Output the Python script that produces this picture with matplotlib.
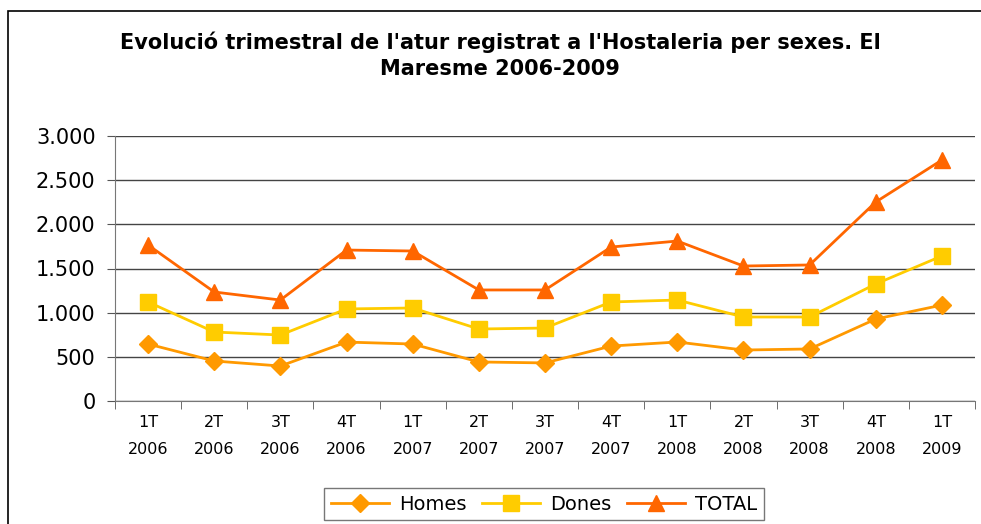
import matplotlib.pyplot as plt
from matplotlib.patches import Rectangle

cats = ["1T\n2006", "2T\n2006", "3T\n2006", "4T\n2006", "1T\n2007", "2T\n2007",
        "3T\n2007", "4T\n2007", "1T\n2008", "2T\n2008", "3T\n2008", "4T\n2008",
        "1T\n2009"]
homes = [645, 453, 396, 667, 645, 442, 431, 622, 668, 577, 589, 928, 1086]
dones = [1121, 781, 747, 1042, 1053, 815, 826, 1121, 1143, 951, 951, 1325, 1642]
total = [1766, 1234, 1143, 1709, 1698, 1257, 1257, 1743, 1811, 1528, 1540, 2253, 2728]

fig = plt.figure(figsize=(9.81, 5.24), dpi=100)
fig.patches.append(Rectangle((8 / 981, -0.1), 1.2, 1.1 - 11 / 524,
                             transform=fig.transFigure, fill=False,
                             edgecolor="black", lw=1.2))

ax = fig.add_axes([115 / 981, 123 / 524, 860 / 981, 265 / 524])
x = range(len(cats))
ax.plot(x, homes, color="#FF9900", marker="D", ms=9, lw=2, label="Homes")
ax.plot(x, dones, color="#FFCC00", marker="s", ms=11, lw=2, label="Dones")
ax.plot(x, total, color="#FF6600", marker="^", ms=12, lw=2, label="TOTAL")

ax.set_xlim(-0.5, len(cats) - 0.5)
ax.set_ylim(0, 3000)
ax.set_yticks(range(0, 3001, 500))
ax.set_yticklabels(["0", "500", "1.000", "1.500", "2.000", "2.500", "3.000"], fontsize=15)
ax.set_xticks(list(x))
ax.set_xticklabels(cats, fontsize=11.5, linespacing=2.0)
ax.tick_params(axis="x", length=0, pad=10)
ax.set_xticks([i - 0.5 for i in range(len(cats) + 1)], minor=True)
ax.tick_params(axis="x", which="minor", length=6, color="#555555")
ax.tick_params(axis="y", length=6, color="#555555", pad=8)
ax.grid(axis="y", color="#444444", lw=1)
ax.set_axisbelow(True)
for s in ["top", "right"]:
    ax.spines[s].set_visible(False)
for s in ["left", "bottom"]:
    ax.spines[s].set_color("#777777")

fig.text(0.51, 1 - 55 / 524, "Evolució trimestral de l'atur registrat a l'Hostaleria per sexes. El\nMaresme 2006-2009",
         ha="center", va="center", fontsize=15, fontweight="bold", linespacing=1.35)

leg = fig.legend(loc="center", bbox_to_anchor=(544 / 981, 1 - 504 / 524), ncol=3,
                 fontsize=14, frameon=True, fancybox=False, edgecolor="#555555",
                 handlelength=3, columnspacing=0.8, handletextpad=0.5,
                 borderpad=0.35)
leg.get_frame().set_linewidth(1)

fig.savefig("out.png", dpi=100)
